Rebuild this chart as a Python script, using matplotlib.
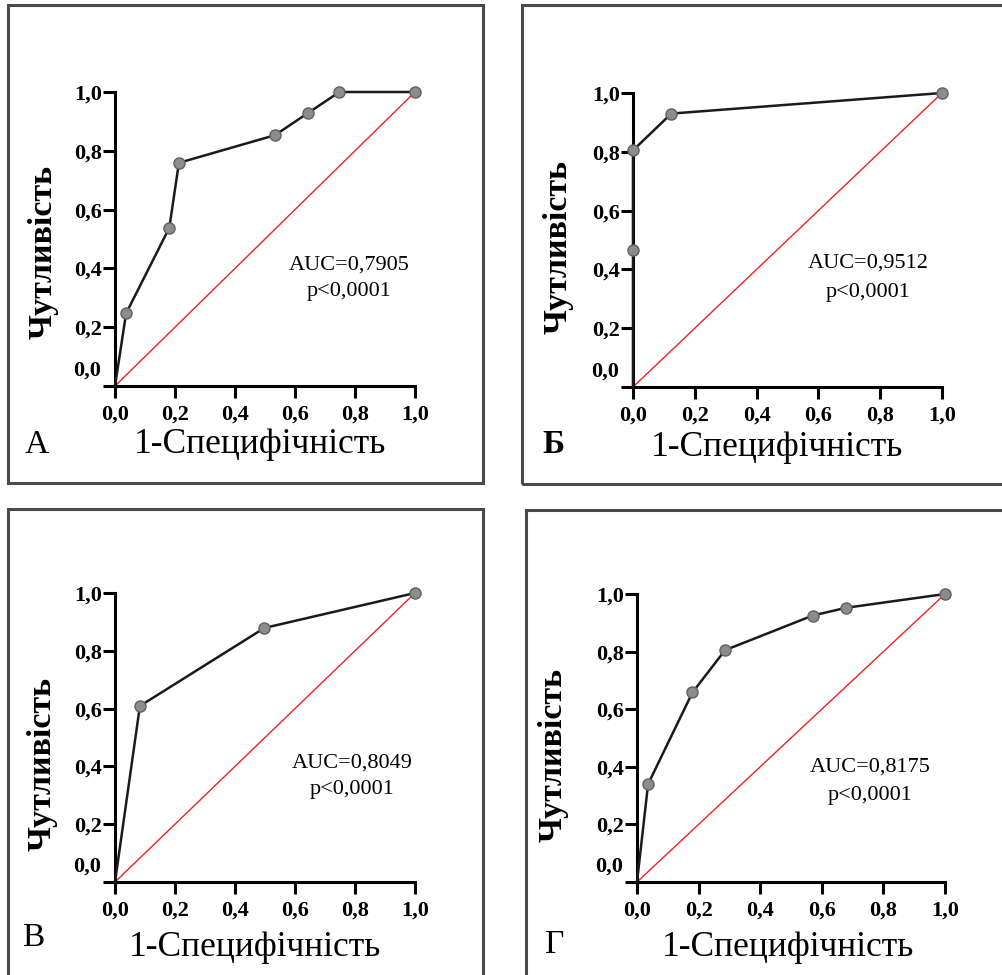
import matplotlib
matplotlib.use('Agg')
import matplotlib.pyplot as plt
from matplotlib.patches import Rectangle

W, H = 1003, 975

# дані ROC-кривих (1-специфічність, чутливість)
a_x = [0.0, 0.037, 0.181, 0.213, 0.533, 0.644, 0.748, 1.0]
a_y = [0.0, 0.247, 0.538, 0.759, 0.853, 0.929, 1.0, 1.0]
b_x = [0.0, 0.0, 0.0, 0.124, 1.0]
b_y = [0.0, 0.467, 0.805, 0.930, 1.0]
c_x = [0.0, 0.083, 0.498, 1.0]
c_y = [0.0, 0.609, 0.879, 1.0]
d_x = [0.0, 0.036, 0.180, 0.286, 0.570, 0.678, 1.0]
d_y = [0.0, 0.340, 0.658, 0.805, 0.925, 0.952, 1.0]

auc_list = ['AUC=0,7905', 'AUC=0,9512', 'AUC=0,8049', 'AUC=0,8175']
p_text = 'p<0,0001'
letters = ['А', 'Б', 'В', 'Г']
ticks = [0.0, 0.2, 0.4, 0.6, 0.8, 1.0]
tick_labels = ['0,0', '0,2', '0,4', '0,6', '0,8', '1,0']

plt.rcParams['font.family'] = ['Liberation Serif', 'DejaVu Serif']

fig = plt.figure(figsize=(W / 100, H / 100), dpi=100)


def fx(px):
    return px / W


def fy(py):
    return 1 - py / H


# рамки панелей (пікселі: x0, y0, x1, y1)
boxes = [(8, 5, 483, 483), (522, 5, 1012, 484), (8, 509, 483, 990), (526, 510, 1012, 990)]
for x0, y0, x1, y1 in boxes:
    fig.add_artist(Rectangle((fx(x0), fy(y1)), fx(x1) - fx(x0), fy(y0) - fy(y1),
                             transform=fig.transFigure, fill=False,
                             edgecolor='#4a4a4a', linewidth=2.2))

# осі (пікселі: x при 0, x при 1, y при 1, y при 0)
axes_px = [(115, 415, 92, 386), (633, 942, 93, 387), (115, 415, 593, 882), (637, 945, 594, 882)]
data = [(a_x, a_y), (b_x, b_y), (c_x, c_y), (d_x, d_y)]
auc_pos = [(0.78, 0.41, 0.32), (0.76, 0.42, 0.32), (0.79, 0.41, 0.32), (0.757, 0.40, 0.30)]
xlab_pos = [(260, 445), (777, 447), (255, 947), (788, 947)]
ylab_pos = [(43, 252), (558, 247), (42, 764), (553, 755)]
let_pos = [(37, 445), (553, 445), (33, 938), (555, 945)]

for i in range(4):
    x0, x1, y1, y0 = axes_px[i]
    ax = fig.add_axes([fx(x0), fy(y0), fx(x1) - fx(x0), fy(y1) - fy(y0)])
    ax.set_xlim(0, 1)
    ax.set_ylim(0, 1)
    for s in ['top', 'right']:
        ax.spines[s].set_visible(False)
    for s in ['left', 'bottom']:
        ax.spines[s].set_linewidth(2.2)
    ax.set_xticks(ticks)
    ax.set_xticklabels(tick_labels)
    ax.set_yticks(ticks)
    ax.set_yticklabels([''] + tick_labels[1:])
    ax.tick_params(direction='out', length=8.5, width=2.2, labelsize=16, pad=1)
    ax.tick_params(axis='x', pad=5)
    for lab in ax.get_xticklabels() + ax.get_yticklabels():
        lab.set_fontweight('bold')
    ax.text(-0.045, 0.054, '0,0', transform=ax.transAxes, ha='right', va='center',
            fontsize=16, fontweight='bold')

    ax.plot([0, 1], [0, 1], color='#ee2222', linewidth=1.0, zorder=2, clip_on=False)
    xs, ys = data[i]
    ax.plot(xs, ys, color='#1a1a1a', linewidth=1.8, zorder=3, clip_on=False,
            marker='o', markersize=8, markerfacecolor='#8c8c8c',
            markeredgecolor='#606060', markeredgewidth=1.0,
            markevery=list(range(1, len(xs))))

    tx, ty1, ty2 = auc_pos[i]
    ax.text(tx, ty1, auc_list[i], transform=ax.transAxes, ha='center', va='center', fontsize=16)
    ax.text(tx, ty2, p_text, transform=ax.transAxes, ha='center', va='center', fontsize=16)

    fig.text(fx(xlab_pos[i][0]), fy(xlab_pos[i][1]), '1-Специфічність',
             ha='center', va='center', fontsize=25.5)
    fig.text(fx(ylab_pos[i][0]), fy(ylab_pos[i][1]), 'Чутливість', rotation=90,
             ha='center', va='center', fontsize=24.5, fontweight='bold')
    fig.text(fx(let_pos[i][0]), fy(let_pos[i][1]), letters[i], ha='center', va='center',
             fontsize=24, fontweight='bold' if i == 1 else 'normal')

fig.savefig('out.png', dpi=100)
